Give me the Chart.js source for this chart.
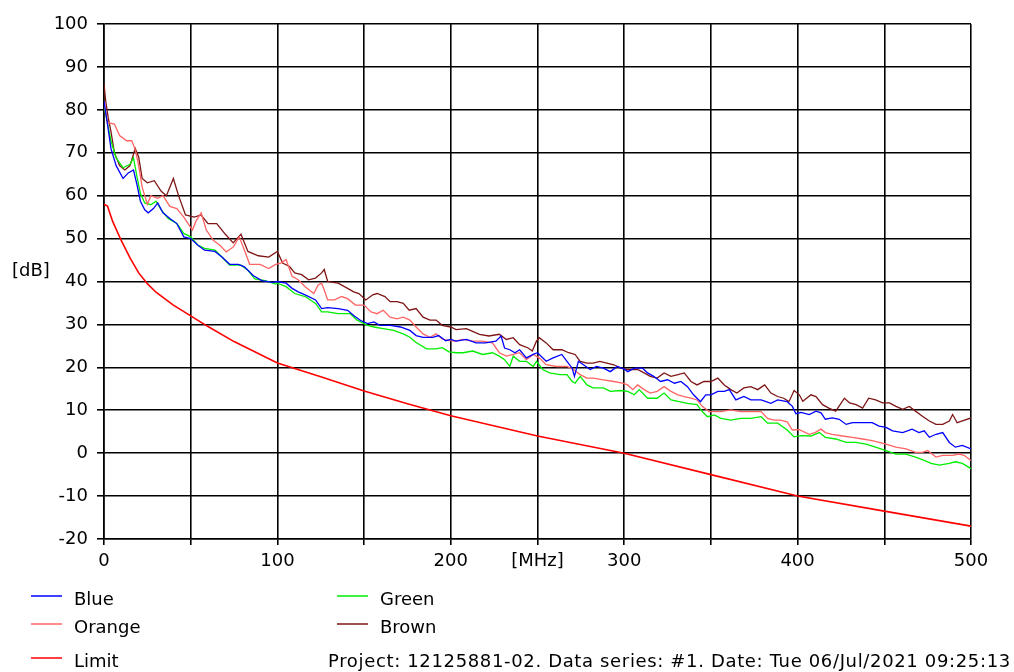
<!DOCTYPE html>
<html>
<head>
<meta charset="utf-8">
<script src="https://cdn.jsdelivr.net/npm/chart.js@4.4.1/dist/chart.umd.min.js"></script>
<style>
  body { margin: 0; background: #fff; }
  canvas { display: block; }
</style>
</head>
<body>
<canvas id="emcChart" width="1014" height="672"></canvas>
<script>
// Scan values: frequency [MHz] / level [dB]
const blueFreq = [0, 2, 4, 7, 11, 14, 17, 19, 21, 23.5, 25.5, 28.5, 31, 34, 38, 42, 46, 50, 54, 58, 64, 68, 72.5, 77.5, 81, 86, 91, 97, 100, 105, 108.5, 112, 116, 122, 125.5, 129, 135, 140.5, 144, 148, 152, 155.7, 159, 165, 171, 176.4, 180, 184, 189.6, 193, 197, 200, 203, 209, 214.5, 220, 226, 229, 231, 234, 237, 239.7, 243.6, 247.5, 250, 255, 259, 264, 267, 270, 271.3, 273.6, 276.5, 280.4, 284, 288, 292, 296, 300, 302, 306, 310.6, 313.5, 317, 321, 325, 329, 332.7, 336.5, 340, 344, 347, 350, 354, 357.7, 360.6, 364.4, 369, 373, 379, 384.6, 388.5, 394, 397, 399, 402, 406.7, 410.6, 413.5, 416, 420, 424, 428, 431.7, 437.5, 443, 447, 451, 454.8, 460.6, 466, 470, 473, 476, 479.8, 483.7, 487.5, 491, 495, 500];
const blueDb = [82, 76.7, 71, 67, 64, 65.3, 66, 62.6, 58.7, 56.7, 56, 57, 58.3, 56, 54.7, 53.5, 50.4, 50, 48.5, 47.3, 47, 45.7, 44, 44, 43.4, 41.4, 40.2, 39.8, 40, 39.6, 38.4, 37.6, 36.9, 35.7, 33.7, 33.9, 33.7, 33.3, 32.1, 30.9, 30.2, 30.6, 29.8, 29.8, 29.4, 28.6, 27.4, 27, 27, 27.4, 26.2, 26.5, 26.1, 26.5, 25.7, 25.7, 26.1, 27.3, 24.5, 24.1, 23.4, 24.1, 22.2, 23, 23.4, 21.4, 22.2, 23, 21.4, 19.8, 17.9, 21.4, 20.6, 19.5, 20.2, 19.8, 19, 20.2, 19.6, 19, 19.8, 19.8, 18.7, 17.9, 16.7, 17.1, 16.3, 16.7, 15.5, 13.6, 12, 13.6, 13.6, 14.4, 14.4, 14.8, 12.4, 13.2, 12.4, 12.4, 11.6, 12.4, 12, 10.9, 9.2, 9.5, 9, 9.8, 9.4, 7.9, 8.2, 7.9, 6.7, 7.1, 7.1, 7.1, 6.3, 6, 5.2, 4.8, 5.6, 4.8, 5.2, 3.7, 4.4, 4.8, 2.5, 1.4, 1.8, 1];

const orangeFreq = [0, 2, 6, 9, 13, 16, 18, 20, 22, 25, 27, 31, 34, 38, 42, 46, 51, 53, 56, 59, 63, 67, 70.5, 74.5, 78, 81, 84, 90, 95, 99, 102, 105, 108.5, 112, 116, 121, 123.5, 125.5, 127, 129, 133, 137, 140.5, 145, 150, 154, 157.5, 161, 165, 169, 172.6, 176.4, 180, 184, 188, 191.5, 195, 199, 203, 207, 212.6, 218.4, 224, 228, 232, 236, 239.7, 243.6, 247.5, 251, 255, 261, 267, 270.7, 274.6, 278.5, 282, 288, 294, 299, 302, 305, 307.7, 311.5, 315, 319, 323, 327, 331, 334.6, 338.5, 342, 345, 349, 353, 355.8, 361.5, 367, 373, 379, 382.7, 386.5, 390, 394, 397, 401, 406.7, 410, 413.5, 416, 420, 426, 431.7, 437.5, 443, 447, 451, 456.7, 462.5, 468, 472, 475, 479.8, 483.7, 489.4, 493, 496, 500];
const orangeDb = [82, 77, 76.7, 74, 72.8, 72.8, 70.8, 67, 62, 58, 60, 59.4, 60, 57.5, 57, 55, 52, 54, 56, 52, 49.6, 48.4, 46.9, 48, 50.4, 47.3, 44, 44, 43, 44, 44.3, 45.1, 41.2, 40.4, 38.8, 37.2, 39.2, 39.6, 38, 35.7, 35.7, 36.5, 36, 34.5, 34.5, 32.9, 32.5, 33.3, 31.7, 31.3, 31.7, 31, 29.4, 27.8, 27, 27.8, 26.6, 26.2, 26.1, 26.5, 26.1, 26.1, 25.7, 23.4, 22.6, 23, 23.4, 21.8, 23, 22.2, 20.6, 20.2, 20.2, 19.5, 18.3, 17.5, 17.5, 17.1, 16.7, 16.3, 15.9, 14.8, 15.9, 14.8, 14, 14.4, 15.5, 14.4, 13.6, 13.2, 12.8, 12.4, 10.9, 9.7, 9.7, 9.7, 10.1, 9.7, 9.7, 9.7, 8.1, 7.7, 7.7, 7.3, 5.4, 5.5, 4.4, 4.8, 5.6, 4.8, 4.4, 4, 3.7, 3.3, 2.9, 2.5, 2.1, 1.4, 1, 0.2, 0.2, 0.6, -0.9, -0.5, -0.5, -0.2, -0.5, -1.7];

const greenFreq = [0, 4, 7, 11, 15, 17, 19, 21, 23.5, 27, 30, 33, 37, 42, 46, 50, 54, 58, 64, 68, 72.5, 79, 83, 87, 93, 99, 100, 105, 110, 116, 122, 125.5, 129, 135, 142, 146, 152, 155.7, 161, 167, 172.6, 176.4, 180, 186, 191.5, 195, 199, 203, 207, 212.6, 218.4, 224, 228, 231, 234, 236, 239.7, 243.6, 247.5, 249.4, 253, 257, 263, 267, 270, 271.7, 274.6, 278.5, 282, 288, 292, 298, 302, 305.8, 308.7, 313.5, 319, 323, 327, 331.7, 336.5, 342, 345, 348, 352, 355.8, 361.5, 367, 373, 379, 382.7, 388.5, 394, 398, 402, 407.7, 412.5, 416, 422, 428, 433.7, 439.4, 445, 451, 456.7, 462.5, 468, 473, 477, 481.7, 487.5, 491, 495, 500];
const greenDb = [81, 72.8, 68.8, 66.5, 67.3, 68.8, 64.5, 60.5, 58.3, 57.9, 58.7, 56.7, 54.7, 53.5, 51.2, 50.4, 48.5, 47.7, 47.3, 45.7, 43.8, 43.8, 42.6, 40.6, 40.2, 39.4, 39.6, 38.8, 37.2, 36.5, 34.9, 32.9, 32.9, 32.5, 32.5, 31, 29.8, 29.4, 29, 28.6, 27.8, 27, 25.8, 24.3, 24.3, 24.6, 23.6, 23.4, 23.4, 23.8, 23, 23.4, 22.6, 21.8, 20.2, 22.6, 21.4, 21.4, 20.2, 21.4, 19.5, 18.7, 18.3, 18.3, 16.7, 16.3, 17.9, 15.9, 15.2, 15.2, 14.4, 14.6, 14.4, 13.6, 14.8, 12.8, 12.8, 14, 12.4, 12, 11.6, 11.3, 9.7, 8.5, 8.9, 8.1, 7.7, 8.1, 8.1, 8.5, 7, 7, 5.4, 3.8, 4.1, 4, 4.8, 3.7, 3.3, 2.5, 2.5, 2.1, 1.4, 0.6, -0.2, -0.2, -0.9, -1.7, -2.4, -2.8, -2.4, -2, -2.4, -3.6];

const brownFreq = [0, 1, 2.5, 4, 6, 9, 12, 15, 18, 20, 22, 25, 29, 33, 36, 40, 43, 47, 52, 56, 60, 65, 70, 74.5, 79, 83, 89, 95, 100, 103, 107, 110, 114, 118, 122, 125.5, 127, 129, 135, 140.5, 144, 147, 151, 155, 157.5, 162, 165, 169, 172.6, 176, 180, 184, 188, 191.5, 195, 200, 203, 209, 212.6, 216.5, 222, 228, 232, 236, 239.7, 244.6, 247, 249.4, 251, 255, 259, 264, 268, 271.7, 274.6, 278.5, 282, 286, 290, 294, 298, 302, 307.7, 311.5, 315, 319, 323, 327, 331, 334.6, 338.5, 342, 346, 350, 354, 357.7, 361.5, 365, 369, 373, 377, 381, 384.6, 388.5, 392, 395, 398, 401, 403, 407.7, 410.6, 414.4, 418, 422, 427, 430, 433.7, 437.5, 441, 445, 449, 453, 456.7, 460.6, 464.4, 468, 472, 476, 479.8, 483.7, 487.5, 489.4, 492, 495, 500];
const brownDb = [86, 82, 78, 75, 70, 67, 66, 67, 71, 69, 64, 63, 63.5, 61, 60, 64, 60, 55.5, 55, 55.5, 53.5, 53.5, 51, 49, 51, 47, 46, 45.7, 47, 44.3, 43.5, 42, 41.6, 40.4, 40.8, 42, 42.8, 40, 39.6, 38.4, 37.6, 37.2, 35.7, 36.9, 37.2, 36.5, 35.3, 35.3, 34.9, 33.3, 33.7, 31.7, 31, 31, 29.8, 29.4, 28.8, 29, 28.4, 27.7, 27.3, 27.7, 26.5, 26.9, 25.3, 24.5, 23.8, 26.1, 26.9, 25.7, 24.1, 24.1, 23.4, 23, 21.4, 21, 21, 21.4, 21, 20.6, 19.8, 19.5, 19.5, 18.7, 17.9, 17.5, 18.7, 17.9, 18.3, 18.7, 16.7, 15.9, 16.7, 16.7, 17.5, 15.9, 14.8, 14, 15.2, 15.5, 14.8, 15.9, 14, 13.2, 12.8, 12, 14.6, 13.6, 12.1, 13.6, 13.2, 11.3, 10.5, 9.8, 12.8, 11.7, 11.3, 10.5, 12.8, 12.4, 11.7, 11.7, 10.9, 10.2, 10.9, 9.8, 8.6, 7.5, 6.7, 6.7, 7.5, 9, 7.1, 7.5, 8.2];

const limitFreq = [0, 2, 5, 10, 15, 20, 25, 30, 40, 50, 60, 75, 100, 125, 150, 175, 200, 250, 300, 350, 400, 450, 500];
const limitDb = [58, 57.6, 54, 49.5, 45.5, 42, 39.5, 37.5, 34.5, 32, 29.5, 26, 21, 17.8, 14.5, 11.5, 8.7, 4, 0, -5, -10, -13.5, -17];

const yTicks = { min: -20, max: 100, step: 10 };
const xTicks = { min: 0, max: 500, step: 50 };
const footerText = 'Project: 12125881-02. Data series: #1. Date: Tue 06/Jul/2021 09:25:13';

const FONT = '18px "DejaVu Sans", sans-serif';

function toPoints(freqs, levels) {
  return freqs.map((f, i) => ({ x: f, y: levels[i] }));
}

function makeSet(label, freqs, levels, color, width) {
  return {
    label: label,
    data: toPoints(freqs, levels),
    borderColor: color,
    backgroundColor: color,
    borderWidth: width,
    pointRadius: 0,
    tension: 0,
    fill: false
  };
}

// legend, [dB] label and footer drawn by hand (Chart.js legend can't do this layout)
const extrasPlugin = {
  id: 'extras',
  afterDraw(chart) {
    const ctx = chart.ctx;
    const sets = chart.data.datasets;
    const slots = [
      { i: 0, x: 31, y: 600 },
      { i: 1, x: 31, y: 628 },
      { i: 2, x: 337, y: 600 },
      { i: 3, x: 337, y: 628 },
      { i: 4, x: 31, y: 662 }
    ];
    ctx.save();
    ctx.font = FONT;
    ctx.fillStyle = '#000';
    ctx.textBaseline = 'middle';
    slots.forEach(s => {
      const ds = sets[s.i];
      ctx.strokeStyle = ds.borderColor;
      ctx.lineWidth = 1.5;
      ctx.beginPath();
      ctx.moveTo(s.x, s.y - 4);
      ctx.lineTo(s.x + 31, s.y - 4);
      ctx.stroke();
      ctx.fillText(ds.label, s.x + 43, s.y);
    });
    ctx.fillText('[dB]', 12, 271);
    // footer is a bit wider in the original font, stretch it to fit
    ctx.letterSpacing = '0.65px';
    ctx.fillText(footerText, 328, 662);
    ctx.restore();
  }
};

const ctx = document.getElementById('emcChart').getContext('2d');
const chart = new Chart(ctx, {
  type: 'line',
  data: {
    datasets: [
      makeSet('Blue', blueFreq, blueDb, '#0000ff', 1.3),
      makeSet('Orange', orangeFreq, orangeDb, '#ff6464', 1.3),
      makeSet('Green', greenFreq, greenDb, '#00ee00', 1.3),
      makeSet('Brown', brownFreq, brownDb, '#7f1515', 1.3),
      makeSet('Limit', limitFreq, limitDb, '#ff0000', 1.6)
    ]
  },
  options: {
    responsive: false,
    animation: false,
    layout: { padding: { top: 24, right: 43, left: 0, bottom: 0 } },
    plugins: {
      legend: { display: false },
      tooltip: { enabled: false }
    },
    scales: {
      x: {
        type: 'linear',
        min: xTicks.min,
        max: xTicks.max,
        afterFit: s => { s.height = 133; },
        grid: { color: '#000', lineWidth: 1.6, tickLength: 6, tickColor: '#000' },
        border: { color: '#000', width: 1.6 },
        ticks: {
          stepSize: xTicks.step,
          autoSkip: false,
          maxRotation: 0,
          padding: 6,
          color: '#000',
          font: { family: '"DejaVu Sans", sans-serif', size: 18 },
          callback: v => v === 250 ? '[MHz]' : (v % 100 === 0 ? v : '')
        }
      },
      y: {
        min: yTicks.min,
        max: yTicks.max,
        afterFit: s => { s.width = 104; },
        grid: { color: '#000', lineWidth: 1.6, tickLength: 7, tickColor: '#000' },
        border: { color: '#000', width: 1.6 },
        ticks: {
          stepSize: yTicks.step,
          padding: 9,
          color: '#000',
          font: { family: '"DejaVu Sans", sans-serif', size: 18 }
        }
      }
    }
  },
  plugins: [extrasPlugin]
});
</script>
</body>
</html>
